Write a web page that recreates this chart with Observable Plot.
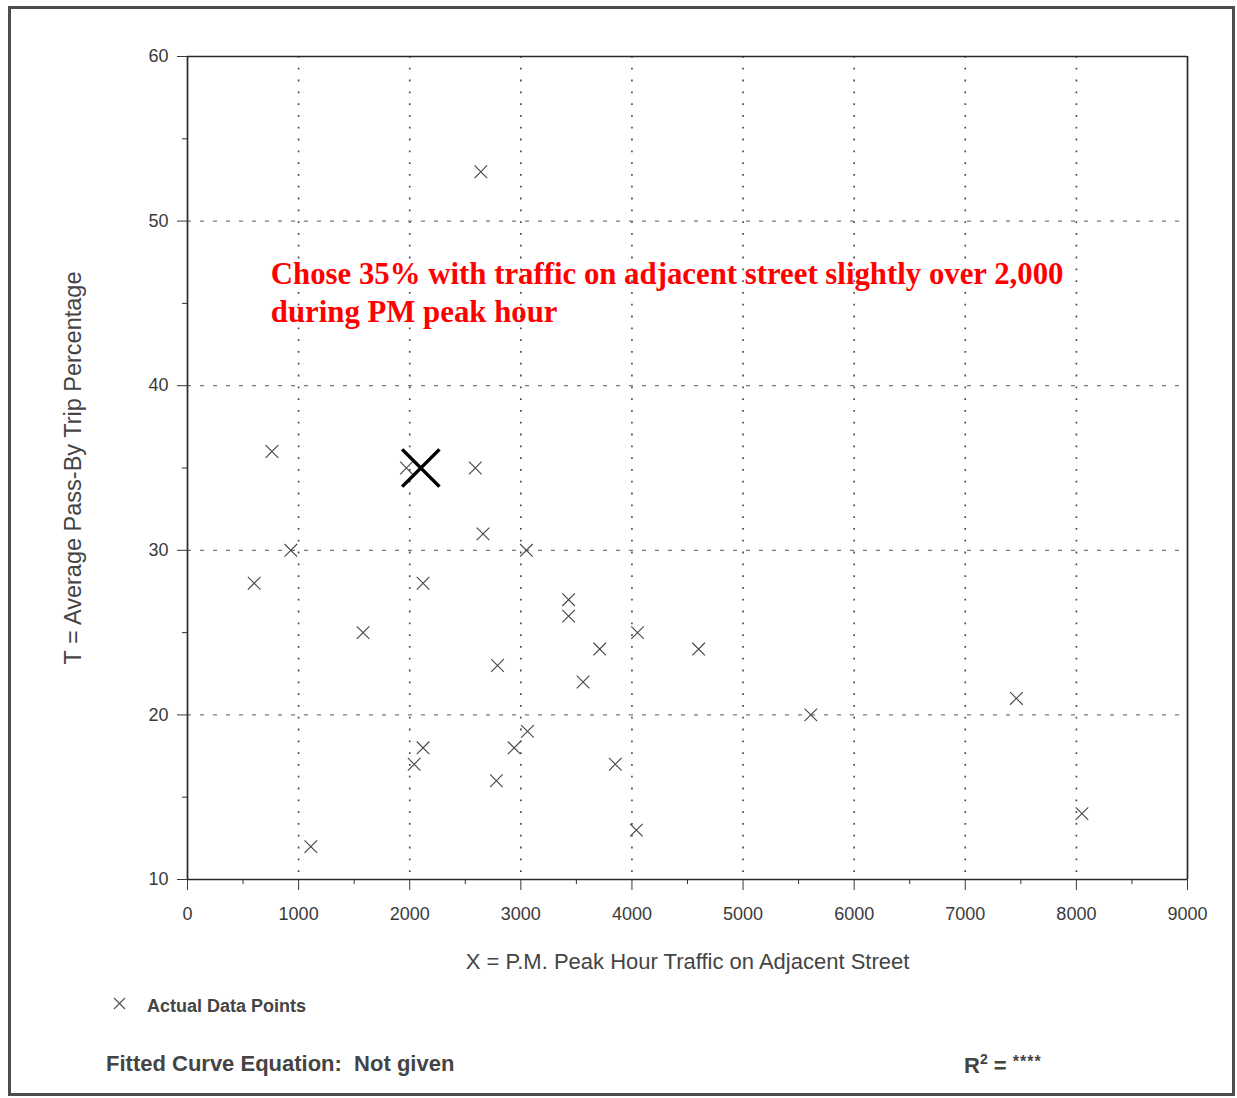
<!DOCTYPE html>
<html>
<head>
<meta charset="utf-8">
<script src="https://cdn.jsdelivr.net/npm/d3@7"></script>
<script src="https://cdn.jsdelivr.net/npm/@observablehq/plot@0.6"></script>
<style>
  html, body { margin: 0; padding: 0; background: #fff; }
  body { width: 1237px; height: 1098px; position: relative; overflow: hidden;
         font-family: "Liberation Sans", Arial, Helvetica, sans-serif; }
  #frame { position: absolute; left: 8px; top: 6px; width: 1227px; height: 1090px;
           box-sizing: border-box; border: 3px solid #4d4d4d; pointer-events: none; }
  #chart { position: absolute; left: 0; top: 0; }
  .note { position: absolute; line-height: 1; font-weight: bold; color: #444; white-space: pre; }
  #legendMark { position: absolute; left: 113px; top: 997px; }
</style>
</head>
<body>
<div id="chart"></div>
<svg id="legendMark" width="13" height="13"><path d="M1,1L12,12M12,1L1,12" stroke="#555" stroke-width="1.2" fill="none"/></svg>
<div class="note" id="legendText" style="left:147px; top:997px; font-size:18px;"></div>
<div class="note" id="fitText" style="left:106px; top:1053px; font-size:22px;"></div>
<div class="note" id="r2Text" style="left:964px; top:1052px; font-size:22px;"></div>
<div id="frame"></div>
<script>
// ---- data ----
const trafficX = [2640, 760, 1970, 2590, 930, 2660, 3050, 600, 2120, 1580, 3430, 3430, 3710, 4050, 4600, 2790, 3560, 5610, 7460, 2120, 2040, 2940, 3060, 2780, 3850, 4040, 8050, 1110];
const passByPct = [53, 36, 35, 35, 30, 31, 30, 28, 28, 25, 27, 26, 24, 25, 24, 23, 22, 20, 21, 18, 17, 18, 19, 16, 17, 13, 14, 12];
const chosenX = [2100];
const chosenY = [35];

const xTicks = [0, 1000, 2000, 3000, 4000, 5000, 6000, 7000, 8000, 9000];
const xMinorTicks = [500, 1500, 2500, 3500, 4500, 5500, 6500, 7500, 8500];
const yTicks = [10, 20, 30, 40, 50, 60];
const yMinorTicks = [15, 25, 35, 45, 55];
const xGridValues = [1000, 2000, 3000, 4000, 5000, 6000, 7000, 8000];
const yGridValues = [20, 30, 40, 50];
const xDomain = [0, 9000];
const yDomain = [10, 60];

const xTitle = "X = P.M. Peak Hour Traffic on Adjacent Street";
const yTitle = "T = Average Pass-By Trip Percentage";
const noteLines = ["Chose 35% with traffic on adjacent street slightly over 2,000", "during PM peak hour"];
const noteX = [750, 750];
const noteY = [46.2, 43.85];
const legendLabel = "Actual Data Points";
const fitLabel = "Fitted Curve Equation:  Not given";

// ---- build tables ----
const points = trafficX.map((x, i) => ({x, y: passByPct[i]}));
const chosen = chosenX.map((x, i) => ({x, y: chosenY[i]}));
const notes = noteLines.map((t, i) => ({t, x: noteX[i], y: noteY[i]}));

const chart = Plot.plot({
  width: 1237,
  height: 980,
  marginLeft: 187,
  marginRight: 50,
  marginTop: 56,
  marginBottom: 101,
  style: {background: "transparent", fontFamily: "'Liberation Sans', Arial, Helvetica, sans-serif"},
  x: {domain: xDomain},
  y: {domain: yDomain},
  marks: [
    Plot.ruleX(xGridValues, {stroke: "#444", strokeWidth: 1.6, strokeDasharray: "1.8,10"}),
    Plot.ruleY(yGridValues, {stroke: "#7a7a7a", strokeWidth: 1.2, strokeDasharray: "4,9"}),
    Plot.ruleX(xDomain, {stroke: "#2a2a2a", strokeWidth: 1.7}),
    Plot.ruleY(yDomain, {stroke: "#2a2a2a", strokeWidth: 1.7}),
    Plot.axisY(yTicks, {anchor: "left", tickSize: 10, tickPadding: 9, fontSize: 18, color: "#3a3a3a", label: null, tickFormat: d => String(d)}),
    Plot.axisY(yMinorTicks, {anchor: "left", tickSize: 5, text: null, color: "#333", label: null}),
    Plot.axisX(xTicks, {anchor: "bottom", tickSize: 11, tickPadding: 17, fontSize: 18, color: "#3a3a3a", label: null, tickFormat: d => String(d)}),
    Plot.axisX(xMinorTicks, {anchor: "bottom", tickSize: 5, text: null, color: "#333", label: null}),
    Plot.text([xTitle], {text: d => d, frameAnchor: "bottom", dy: 82, lineAnchor: "middle", textAnchor: "middle", fontSize: 22, fill: "#444"}),
    Plot.text([yTitle], {text: d => d, frameAnchor: "left", dx: -114, rotate: -90, textAnchor: "middle", lineAnchor: "middle", fontSize: 23.5, fill: "#444"}),
    Plot.dot(points, {x: "x", y: "y", symbol: "times", r: 5.8, stroke: "#444", strokeWidth: 1.1}),
    Plot.dot(chosen, {x: "x", y: "y", symbol: "times", r: 17, stroke: "#000", strokeWidth: 3.5}),
    Plot.text(notes, {x: "x", y: "y", text: "t", textAnchor: "start", lineAnchor: "bottom",
      fontFamily: "'Liberation Serif', 'Times New Roman', serif", fontWeight: "bold", fontSize: 30.8, fill: "#f00"})
  ]
});
document.getElementById("chart").appendChild(chart);

document.getElementById("legendText").textContent = legendLabel;
document.getElementById("fitText").textContent = fitLabel;
document.getElementById("r2Text").innerHTML = 'R<sup style="font-size:14px;vertical-align:9px;">2</sup> = <span style="font-size:16px;vertical-align:6px;letter-spacing:1px;">****</span>';
</script>
</body>
</html>
